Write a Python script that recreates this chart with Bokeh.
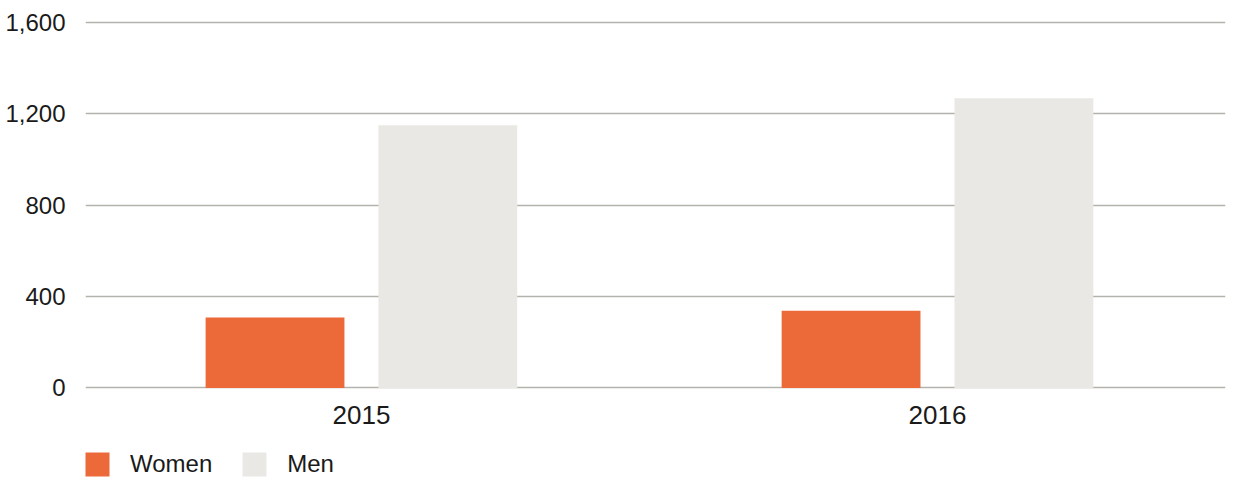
from bokeh.plotting import figure
from bokeh.models import (ColumnDataSource, Range1d, FixedTicker, NumeralTickFormatter,
                          Legend, LegendItem)
from bokeh.transform import dodge
from bokeh.embed import file_html
from bokeh.resources import INLINE

years = ["2015", "2016"]
women = [308, 338]
men = [1150, 1268]
series_names = ["Women", "Men"]
colors = ["#EC693A", "#E9E8E4"]
y_ticks = [0, 400, 800, 1200, 1600]

xpos = list(range(len(years)))
src = ColumnDataSource(dict(x=xpos, women=women, men=men))

FONT = "Liberation Sans"

p = figure(width=1235, height=486, output_backend="svg", toolbar_location=None,
           x_range=Range1d(-0.479, 1.5), y_range=Range1d(-431, 1634),
           min_border_left=85, min_border_right=10, min_border_top=14, min_border_bottom=0)
p.outline_line_color = None
p.background_fill_color = "white"
p.border_fill_color = "white"

r_w = p.vbar(x=dodge("x", -0.15), top="women", width=0.241, source=src, color=colors[0],
             line_color=None)
r_m = p.vbar(x=dodge("x", 0.15), top="men", width=0.241, source=src, color=colors[1],
             line_color=None)

p.xgrid.grid_line_color = None
p.ygrid.grid_line_color = "#b3b2ad"
p.ygrid.grid_line_width = 1.5
p.ygrid.ticker = FixedTicker(ticks=y_ticks)

p.yaxis.ticker = FixedTicker(ticks=y_ticks)
p.yaxis.formatter = NumeralTickFormatter(format="0,0")
p.yaxis.axis_line_color = None
p.yaxis.major_tick_line_color = None
p.yaxis.minor_tick_line_color = None
p.yaxis.major_label_standoff = 14
p.yaxis.major_label_text_font = FONT
p.yaxis.major_label_text_font_size = "24px"
p.yaxis.major_label_text_color = "#1a1a1a"

xax = p.xaxis[0]
xax.fixed_location = 0
xax.ticker = FixedTicker(ticks=xpos)
xax.major_label_overrides = {i: y for i, y in zip(xpos, years)}
xax.axis_line_color = None
xax.major_tick_line_color = None
xax.minor_tick_line_color = None
xax.major_label_standoff = 12
xax.major_label_text_font = FONT
xax.major_label_text_font_size = "26px"
xax.major_label_text_color = "#1a1a1a"

legend = Legend(items=[LegendItem(label=series_names[0], renderers=[r_w]),
                       LegendItem(label=series_names[1], renderers=[r_m])],
                orientation="horizontal", location=(-3, 7),
                glyph_width=30, glyph_height=30, label_height=30,
                label_standoff=18, spacing=27, padding=0, margin=0,
                border_line_color=None, background_fill_alpha=0,
                label_text_font=FONT, label_text_font_size="24px",
                label_text_color="#1a1a1a")
p.add_layout(legend, "center")

open("out.html", "w").write(file_html(p, INLINE))
